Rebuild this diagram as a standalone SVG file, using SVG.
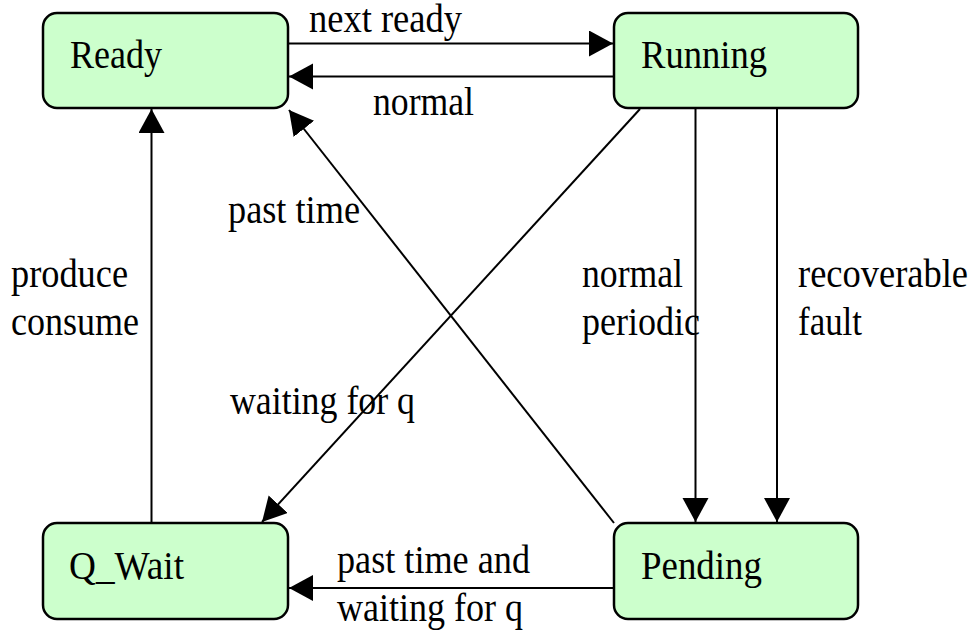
<svg xmlns="http://www.w3.org/2000/svg" width="972" height="633" viewBox="0 0 972 633">
  <style>
    .state rect { fill: #ccffcc; stroke: #000; stroke-width: 2.5; }
    text { font-family: "Liberation Serif", "Times New Roman", serif; font-size: 40px; fill: #000; }
    .edge { stroke: #000; stroke-width: 2; fill: none; marker-end: url(#arrow); }
  </style>
  <defs>
    <marker id="arrow" markerUnits="userSpaceOnUse" markerWidth="26" markerHeight="28" refX="24" refY="13" orient="auto">
      <path d="M0,0 L24,13 L0,26 Z" fill="#000"/>
    </marker>
  </defs>

  <rect width="972" height="633" fill="#fff"/>

  <!-- transitions -->
  <g id="connectors">
    <line class="edge" x1="288" y1="43.5" x2="613" y2="43.5"/>
    <line class="edge" x1="614" y1="76.5" x2="289" y2="76.5"/>
    <line class="edge" x1="151.5" y1="523" x2="151.5" y2="109"/>
    <line class="edge" x1="640" y1="109" x2="262" y2="522"/>
    <line class="edge" x1="614" y1="523" x2="289" y2="110"/>
    <line class="edge" x1="695.5" y1="108" x2="695.5" y2="522"/>
    <line class="edge" x1="777" y1="108" x2="777" y2="522"/>
    <line class="edge" x1="614" y1="588" x2="289" y2="588"/>

    <text x="309" y="32" textLength="153" lengthAdjust="spacingAndGlyphs">next ready</text>
    <text x="373" y="115" textLength="101" lengthAdjust="spacingAndGlyphs">normal</text>
    <text x="11" y="287" textLength="117" lengthAdjust="spacingAndGlyphs">produce</text>
    <text x="11" y="335" textLength="128" lengthAdjust="spacingAndGlyphs">consume</text>
    <text x="228" y="223" textLength="132" lengthAdjust="spacingAndGlyphs">past time</text>
    <text x="230" y="414" textLength="185" lengthAdjust="spacingAndGlyphs">waiting for q</text>
    <text x="582" y="287" textLength="101" lengthAdjust="spacingAndGlyphs">normal</text>
    <text x="582" y="335" textLength="118" lengthAdjust="spacingAndGlyphs">periodic</text>
    <text x="798" y="287" textLength="170" lengthAdjust="spacingAndGlyphs">recoverable</text>
    <text x="798" y="335" textLength="64" lengthAdjust="spacingAndGlyphs">fault</text>
    <text x="337" y="573" textLength="193" lengthAdjust="spacingAndGlyphs">past time and</text>
    <text x="337" y="621" textLength="186" lengthAdjust="spacingAndGlyphs">waiting for q</text>
  </g>

  <!-- states -->
  <g id="ready" class="state">
    <rect x="43" y="13" width="245" height="95" rx="14"/>
    <text x="70" y="68" textLength="92" lengthAdjust="spacingAndGlyphs">Ready</text>
  </g>
  <g id="running" class="state">
    <rect x="614" y="13" width="244" height="95" rx="14"/>
    <text x="641" y="68" textLength="126" lengthAdjust="spacingAndGlyphs">Running</text>
  </g>
  <g id="q_wait" class="state">
    <rect x="43" y="523" width="245" height="96" rx="14"/>
    <text x="69" y="579" textLength="115" lengthAdjust="spacingAndGlyphs">Q_Wait</text>
  </g>
  <g id="pending" class="state">
    <rect x="614" y="523" width="244" height="96" rx="14"/>
    <text x="641" y="579" textLength="121" lengthAdjust="spacingAndGlyphs">Pending</text>
  </g>
</svg>
